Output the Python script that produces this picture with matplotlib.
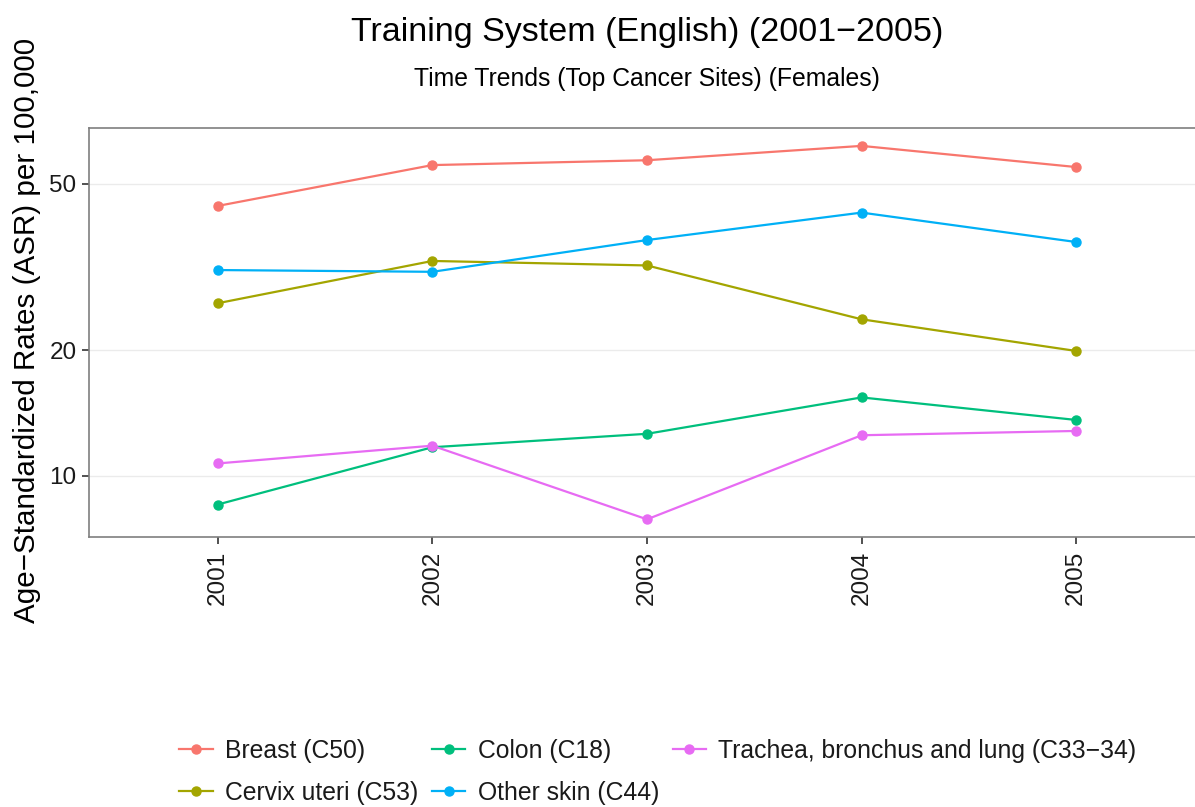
import matplotlib
matplotlib.use("Agg")
import matplotlib.pyplot as plt
from matplotlib.ticker import FixedLocator, NullLocator

plt.rcParams['font.family'] = ['Liberation Sans', 'DejaVu Sans']

years = ["2001", "2002", "2003", "2004", "2005"]
sites = ["Breast (C50)", "Cervix uteri (C53)", "Colon (C18)",
         "Other skin (C44)", "Trachea, bronchus and lung (C33\u221234)"]
breast = [44.3, 55.5, 57.0, 61.7, 54.9]
cervix = [25.9, 32.7, 31.9, 23.7, 19.9]
colon = [8.53, 11.7, 12.6, 15.4, 13.6]
other_skin = [31.1, 30.8, 36.7, 42.7, 36.3]
trachea = [10.7, 11.8, 7.86, 12.5, 12.8]
series = [breast, cervix, colon, other_skin, trachea]
colors = ["#F8766D", "#A3A500", "#00BF7D", "#00B0F6", "#E76BF3"]
yticks = [10, 20, 50]

W, H = 1195, 807
fig = plt.figure(figsize=(W / 100, H / 100), dpi=100)
left, right, top, bottom = 89, 1205, 128, 537
ax = fig.add_axes([left / W, 1 - bottom / H, (right - left) / W, (bottom - top) / H])

x = list(range(1, len(years) + 1))
handles = []
for vals, c, lab in zip(series, colors, sites):
    h, = ax.plot(x, vals, color=c, lw=1.6, marker='o', ms=6.5, label=lab, zorder=3)
    handles.append(h)

ax.set_yscale('log')
ax.set_ylim(7.13, 68.1)
ax.set_xlim(0.4, 5.6)
ax.yaxis.set_major_locator(FixedLocator(yticks))
ax.yaxis.set_minor_locator(NullLocator())
ax.set_yticklabels([str(v) for v in yticks])
ax.set_xticks(x)
ax.set_xticklabels(years, rotation=90)
ax.grid(axis='y', color='#ebebeb', lw=1.0, zorder=0)
ax.set_axisbelow(True)
for s in ax.spines.values():
    s.set_color('#7f7f7f')
    s.set_linewidth(1.2)
ax.tick_params(axis='both', colors='#333333', labelcolor='#1a1a1a', labelsize=17.5,
               length=5, width=1.2, direction='out')
ax.tick_params(axis='x', pad=5)
ax.tick_params(axis='y', pad=4)

fig.text(0.5 * (left + right) / W, 1 - 33 / H, "Training System (English) (2001\u22122005)",
         ha='center', va='center', fontsize=24.5, color='#000000')
fig.text(0.5 * (left + right) / W, 1 - 79 / H, "Time Trends (Top Cancer Sites) (Females)",
         ha='center', va='center', fontsize=17.8, color='#000000')
fig.text(27 / W, 1 - 330 / H, "Age\u2212Standardized Rates (ASR) per 100,000",
         rotation=90, ha='center', va='center', fontsize=21.3, color='#000000')

leg = fig.legend(handles, sites,
                 ncol=3, loc='center', bbox_to_anchor=(658 / W, 1 - 772 / H),
                 frameon=False, fontsize=17.8, handlelength=1.35, handletextpad=0.5,
                 columnspacing=0.55, labelspacing=0.72)
for t in leg.get_texts():
    t.set_color('#1a1a1a')

fig.savefig("out.png", dpi=100)
